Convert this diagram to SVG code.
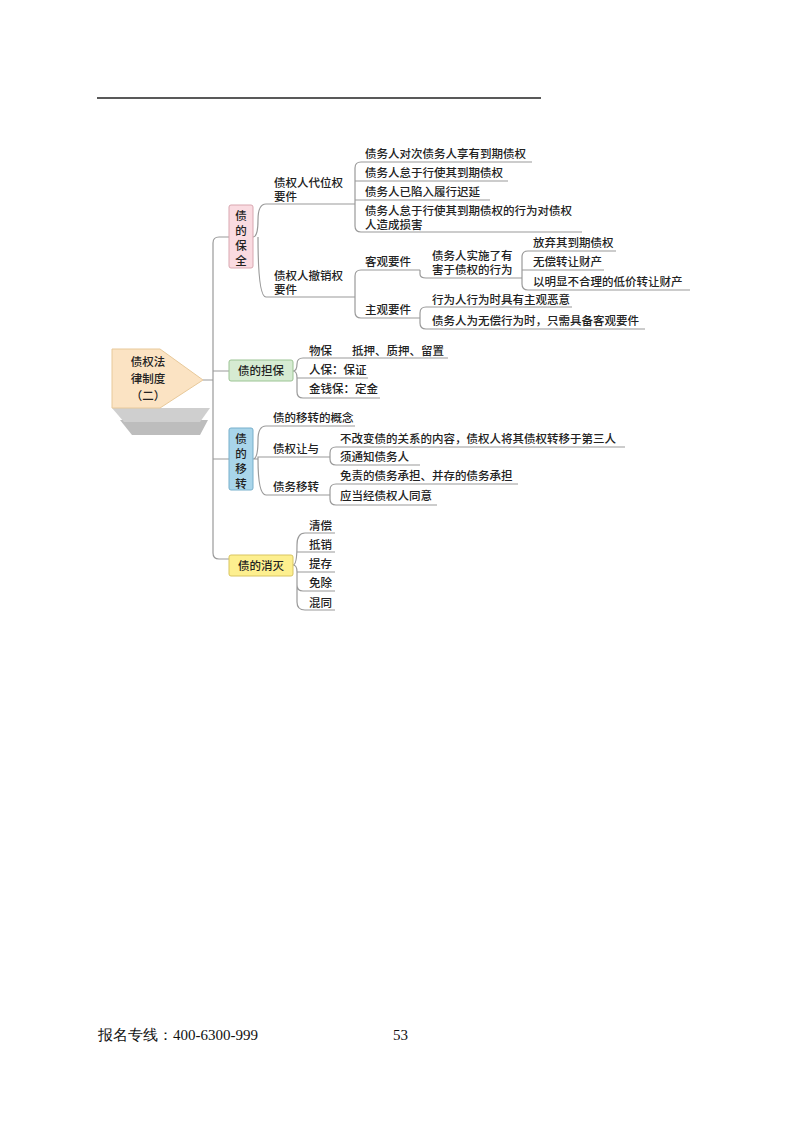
<svg xmlns="http://www.w3.org/2000/svg" width="800" height="1124" viewBox="0 0 800 1124">
<style>
text{font-family:"Noto Sans CJK SC","Noto Sans",sans-serif;font-size:11.5px;fill:#222;font-weight:500}
.c{fill:none;stroke:#9a9a9a;stroke-width:1.2}
.u{fill:none;stroke:#9a9a9a;stroke-width:1}
.ft{font-family:"Liberation Serif",serif;font-size:15px;fill:#111;font-weight:normal}
.mid{text-anchor:middle}
</style>
<rect width="800" height="1124" fill="#fff"/>
<line x1="97" y1="98" x2="541" y2="98" stroke="#222" stroke-width="1.5"/>
<g id="connectors">
<path class="c" d="M203,380 H213 M213,380 V243 Q213,237 219,237 H229 M213,380 V371 H229 M213,380 V553 Q213,559 219,559 H229 M213,459 H229"/>
<path class="c" d="M253,237 Q258,237 258,220 Q258,204 266,204 H355 M258,237 Q258,297 266,297 H355"/>
<path class="c" d="M355,204 V168 Q355,162 361,162 H532 M355,181 H508 M355,200 H490 M355,204 V226 Q355,232 361,232 H582"/>
<path class="c" d="M355,297 V276 Q355,270 361,270 H420 M355,297 V312 Q355,318 361,318 H420"/>
<path class="c" d="M420,270 V274 Q420,278 426,278 H522 M522,278 V257 Q522,251 528,251 H616 M522,270 H604 M522,278 V284 Q522,290 528,290 H690"/>
<path class="c" d="M420,318 V313 Q420,307 426,307 H572 M420,318 V323 Q420,329 426,329 H645"/>
<path class="c" d="M293,371 Q297,371 297,364 Q297,358 303,358 H448 M293,371 Q297,371 297,378 H368 M297,378 V392 Q297,398 303,398 H380"/>
<path class="c" d="M253,459 Q258,459 258,440 Q258,426 266,426 H355 M253,459 H258 V457 H330 M258,459 Q258,495 266,495 H330"/>
<path class="c" d="M330,457 V453 Q330,447 336,447 H625 M330,457 V459 Q330,465 336,465 H420"/>
<path class="c" d="M330,495 V490 Q330,484 336,484 H518 M330,495 V499 Q330,505 336,505 H437"/>
<path class="c" d="M293,565 Q297,565 297,545 Q297,533 305,533 H335 M297,552 H335 M293,565 Q297,565 297,572 H335 M297,572 V585 Q297,591 303,591 H335 M297,585 V602 Q297,610 305,610 H335"/>
</g>
<g id="root">
<polygon points="120,420 208,420 200,435 132,435" fill="#bdbdbd"/>
<polygon points="112,408 210,408 200,422 124,422" fill="#cfcfcf"/>
<path d="M112,349 H160 L203,380 L160,408 H112 Z" fill="#fbe3c3" stroke="#e8c99a"/>
<text x="148" y="366" class="mid" font-size="13">债权法</text>
<text x="148" y="383" class="mid" font-size="13">律制度</text>
<text x="148" y="400" class="mid" font-size="13">（二）</text>
</g>
<g id="n1"><rect x="229" y="205" width="24" height="63" rx="2" fill="#fadbe1" stroke="#d9a7b0"/>
<text x="241" y="220" class="mid">债</text><text x="241" y="235" class="mid">的</text><text x="241" y="250" class="mid">保</text><text x="241" y="265" class="mid">全</text></g>
<g id="n2"><rect x="229" y="360" width="64" height="21" rx="2" fill="#d6ebd2" stroke="#9cc494"/><text x="261" y="375" class="mid">债的担保</text></g>
<g id="n3"><rect x="229" y="428" width="24" height="62" rx="2" fill="#a9d5ea" stroke="#77afcb"/>
<text x="241" y="443" class="mid">债</text><text x="241" y="458" class="mid">的</text><text x="241" y="473" class="mid">移</text><text x="241" y="488" class="mid">转</text></g>
<g id="n4"><rect x="229" y="555" width="64" height="21" rx="2" fill="#fdef8f" stroke="#d9c560"/><text x="261" y="570" class="mid">债的消灭</text></g>
<g id="labels">
<text x="274" y="187">债权人代位权</text><text x="274" y="201">要件</text>
<text x="365" y="158">债务人对次债务人享有到期债权</text>
<text x="365" y="177">债务人怠于行使其到期债权</text>
<text x="365" y="196">债务人已陷入履行迟延</text>
<text x="365" y="215">债务人怠于行使其到期债权的行为对债权</text><text x="365" y="229">人造成损害</text>
<text x="274" y="280">债权人撤销权</text><text x="274" y="294">要件</text>
<text x="365" y="266">客观要件</text>
<text x="432" y="260">债务人实施了有</text><text x="432" y="274">害于债权的行为</text>
<text x="533" y="247">放弃其到期债权</text>
<text x="533" y="266">无偿转让财产</text>
<text x="533" y="286">以明显不合理的低价转让财产</text>
<text x="365" y="314">主观要件</text>
<text x="432" y="304">行为人行为时具有主观恶意</text>
<text x="432" y="325">债务人为无偿行为时，只需具备客观要件</text>
<text x="309" y="355">物保</text><text x="352" y="355">抵押、质押、留置</text>
<text x="309" y="374">人保：保证</text>
<text x="309" y="393">金钱保：定金</text>
<text x="273" y="422">债的移转的概念</text>
<text x="273" y="453">债权让与</text>
<text x="340" y="443">不改变债的关系的内容，债权人将其债权转移于第三人</text>
<text x="340" y="461">须通知债务人</text>
<text x="273" y="491">债务移转</text>
<text x="340" y="480">免责的债务承担、并存的债务承担</text>
<text x="340" y="500">应当经债权人同意</text>
<text x="309" y="530">清偿</text><text x="309" y="549">抵销</text><text x="309" y="568">提存</text><text x="309" y="587">免除</text><text x="309" y="607">混同</text>
</g>
<text x="98" y="1040" class="ft">报名专线：400-6300-999</text>
<text x="393" y="1040" class="ft">53</text>
</svg>
